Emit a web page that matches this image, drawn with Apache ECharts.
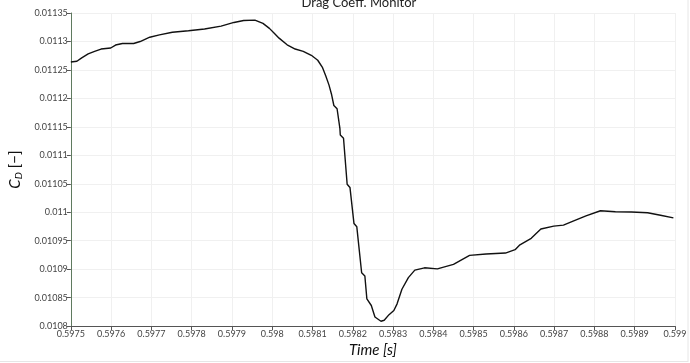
<!DOCTYPE html>
<html>
<head>
<meta charset="utf-8">
<script src="https://cdn.jsdelivr.net/npm/echarts@6/dist/echarts.min.js"></script>
<style>
html,body{margin:0;padding:0;background:#fff;}
#chart{width:690px;height:363px;}
</style>
</head>
<body>
<div id="chart"></div>
<script>
const titleText = "Drag Coeff. Monitor";
const xName = "Time [s]";
const time = [
0.597500,0.597515,0.597527,0.597543,0.597559,0.597575,0.597599,0.597611,0.597628,0.597656,
0.597672,0.597696,0.597720,0.597752,0.597792,0.597832,0.597873,0.597905,0.597929,0.597957,
0.597977,0.597993,0.598005,0.598017,0.598037,0.598057,0.598077,0.598097,0.598113,0.598125,
0.598133,0.598141,0.598147,0.598153,0.598161,0.598168,0.598169,0.598177,0.598186,0.598193,
0.598203,0.598210,0.598222,0.598230,0.598235,0.598246,0.598255,0.598270,0.598278,0.598290,
0.598302,0.598310,0.598322,0.598338,0.598354,0.598378,0.598410,0.598450,0.598490,0.598531,
0.598579,0.598603,0.598615,0.598643,0.598667,0.598699,0.598723,0.598747,0.598779,0.598815,
0.598852,0.598892,0.598932,0.598964,0.598996
];
const cd = [
0.0112639,0.0112653,0.0112712,0.0112781,0.0112826,0.0112867,0.0112885,0.0112937,0.0112964,0.0112964,
0.0112999,0.0113075,0.0113115,0.0113161,0.0113189,0.0113218,0.0113270,0.0113334,0.0113369,0.0113374,
0.0113317,0.0113230,0.0113144,0.0113058,0.0112942,0.0112867,0.0112826,0.0112757,0.0112670,0.0112539,
0.0112394,0.0112233,0.0112078,0.0111875,0.0111818,0.0111473,0.0111357,0.0111300,0.0110493,0.0110436,
0.0109801,0.0109744,0.0108937,0.0108880,0.0108477,0.0108362,0.0108160,0.0108085,0.0108102,0.0108201,
0.0108275,0.0108391,0.0108647,0.0108851,0.0108984,0.0109024,0.0109006,0.0109083,0.0109243,0.0109266,
0.0109283,0.0109342,0.0109428,0.0109542,0.0109705,0.0109757,0.0109774,0.0109843,0.0109935,0.0110026,
0.0110009,0.0110004,0.0109992,0.0109947,0.0109900
];
const xMin = 0.5975, xMax = 0.599, xStep = 0.0001;
const yMin = 0.0108, yMax = 0.01135, yStep = 0.00005;

const data = time.map((t, i) => [t, cd[i]]);
const chart = echarts.init(document.getElementById('chart'), null, {renderer: 'canvas'});
const font = 'Lato, "DejaVu Sans", sans-serif';
chart.setOption({
  animation: false,
  backgroundColor: '#fff',
  grid: {left: 52, right: 15, top: 13, bottom: 32},
  graphic: [
    {type: 'text', left: 363.5 - 62, top: -4, style: {text: titleText, font: '13px ' + font, fill: '#222'}},
    {type: 'line', shape: {x1: 688, y1: 0, x2: 688, y2: 362}, style: {stroke: '#e6e6e6', lineWidth: 1}},
    {type: 'line', shape: {x1: 0, y1: 361.5, x2: 688, y2: 361.5}, style: {stroke: '#e6e6e6', lineWidth: 1}}
  ],
  xAxis: {
    type: 'value', min: xMin, max: xMax, interval: xStep,
    name: xName, nameLocation: 'middle', nameGap: 11,
    nameTextStyle: {fontFamily: font, fontSize: 15, fontStyle: 'italic', color: '#111'},
    axisLine: {show: true, lineStyle: {color: '#555', width: 1}},
    axisTick: {show: true, length: 4, lineStyle: {color: '#555'}},
    axisLabel: {fontFamily: font, fontSize: 9, color: '#444', margin: 3,
      showMinLabel: true, showMaxLabel: true,
      formatter: v => String(parseFloat(v.toFixed(4)))},
    splitLine: {show: true, lineStyle: {color: '#f0f0f0', width: 1}}
  },
  yAxis: {
    type: 'value', min: yMin, max: yMax, interval: yStep,
    name: '{c|C}{d|D}{n| [\u2212]}', nameLocation: 'middle', nameGap: 42, nameRotate: 90,
    nameTextStyle: {
      rich: {
        c: {fontFamily: font, fontSize: 15, fontStyle: 'italic', color: '#111'},
        d: {fontFamily: font, fontSize: 10, fontStyle: 'italic', color: '#111', padding: [6, 0, 0, 0]},
        n: {fontFamily: font, fontSize: 15, color: '#111'}
      }
    },
    axisLine: {show: true, lineStyle: {color: '#5f7a5f', width: 1}},
    axisTick: {show: true, length: 4, lineStyle: {color: '#555'}},
    axisLabel: {fontFamily: font, fontSize: 9, color: '#444', margin: 3,
      formatter: v => String(parseFloat(v.toFixed(5)))},
    splitLine: {show: true, lineStyle: {color: '#f0f0f0', width: 1}}
  },
  series: [{
    type: 'line', data: data, showSymbol: false, symbol: 'none',
    lineStyle: {color: '#111', width: 1.4}
  }]
});
</script>
</body>
</html>
